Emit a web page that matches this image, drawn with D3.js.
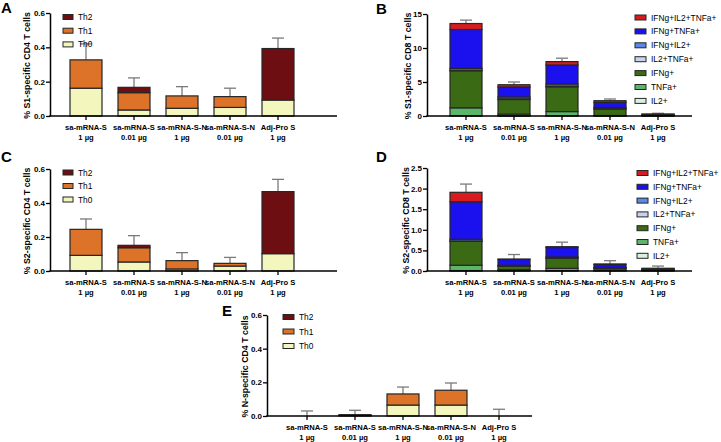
<!DOCTYPE html>
<html><head><meta charset="utf-8">
<script src="https://cdn.jsdelivr.net/npm/d3@7"></script>
<style>
body{margin:0;background:#fff;}
svg{display:block;font-family:"Liberation Sans",Arial,sans-serif;}
</style></head>
<body>
<svg id="chart" width="721" height="442"></svg>
<script>
// ---------- data ----------
const catLine1 = ["sa-mRNA-S", "sa-mRNA-S", "sa-mRNA-S-N", "sa-mRNA-S-N", "Adj-Pro S"];
const catLine2 = ["1 µg", "0.01 µg", "1 µg", "0.01 µg", "1 µg"];
const categories = ["g1", "g2", "g3", "g4", "g5"];

const cd4Keys = ["Th0", "Th1", "Th2"];
const cd4Colors = ["#f3f7bd", "#dc7328", "#6d0e12"];

const cd8Keys = ["IL2+", "TNFa+", "IFNg+", "IL2+TNFa+", "IFNg+IL2+", "IFNg+TNFa+", "IFNg+IL2+TNFa+"];
const cd8Colors = ["#d6f2df", "#5cb66a", "#3b6a14", "#c9d3ef", "#5b8ae6", "#1b10ee", "#d81b1f"];

// Panel A: S1-specific CD4
const aTh0 = [0.162, 0.035, 0.045, 0.050, 0.093];
const aTh1 = [0.165, 0.101, 0.072, 0.063, 0.000];
const aTh2 = [0.000, 0.031, 0.000, 0.000, 0.300];
const aErr = [0.420, 0.222, 0.171, 0.162, 0.454];

// Panel C: S2-specific CD4
const cTh0 = [0.092, 0.053, 0.012, 0.029, 0.102];
const cTh1 = [0.153, 0.084, 0.049, 0.016, 0.000];
const cTh2 = [0.000, 0.014, 0.000, 0.000, 0.365];
const cErr = [0.306, 0.208, 0.108, 0.080, 0.539];

// Panel E: N-specific CD4
const eTh0 = [0.000, 0.004, 0.065, 0.065, 0.000];
const eTh1 = [0.000, 0.004, 0.066, 0.088, 0.000];
const eTh2 = [0.000, 0.000, 0.000, 0.000, 0.000];
const eErr = [0.030, 0.034, 0.172, 0.196, 0.040];

// Panel B: S1-specific CD8
const bIL2      = [0.05, 0.03, 0.05, 0.02, 0.02];
const bTNFa     = [1.15, 0.25, 0.60, 0.05, 0.05];
const bIFNg     = [5.45, 2.15, 3.65, 0.95, 0.10];
const bIL2TNFa  = [0.10, 0.10, 0.10, 0.05, 0.02];
const bIFNgIL2  = [0.25, 0.27, 0.30, 0.18, 0.02];
const bIFNgTNFa = [5.72, 1.47, 2.80, 0.75, 0.05];
const bTriple   = [0.88, 0.33, 0.50, 0.25, 0.02];
const bErr      = [14.1, 5.0, 8.5, 2.5, 0.4];

// Panel D: S2-specific CD8
const dIL2      = [0.010, 0.010, 0.010, 0.010, 0.005];
const dTNFa     = [0.130, 0.020, 0.055, 0.010, 0.010];
const dIFNg     = [0.580, 0.090, 0.245, 0.050, 0.020];
const dIL2TNFa  = [0.010, 0.005, 0.010, 0.005, 0.005];
const dIFNgIL2  = [0.040, 0.015, 0.020, 0.010, 0.005];
const dIFNgTNFa = [0.910, 0.140, 0.230, 0.075, 0.015];
const dTriple   = [0.230, 0.010, 0.020, 0.010, 0.005];
const dErr      = [2.11, 0.40, 0.70, 0.25, 0.12];

const aTicks = [0, 0.2, 0.4, 0.6];
const bTicks = [0, 5, 10, 15];
const dTicks = [0, 0.5, 1.0, 1.5, 2.0, 2.5];

// ---------- drawing ----------
const svg = d3.select("#chart");

function panel(o) {
  const g = svg.append("g");
  const y = d3.scaleLinear().domain(o.domain).range([o.bottom, o.top]);
  const x = d3.scaleBand().domain(categories)
    .range([o.c0 - 24, o.c0 - 24 + 48 * categories.length])
    .paddingInner(1/3).paddingOuter(1/6);

  const rows = categories.map((c, i) => {
    const r = {cat: c};
    o.keys.forEach((k, j) => r[k] = o.series[j][i]);
    return r;
  });
  const stacked = d3.stack().keys(o.keys)(rows);

  // error bars (drawn first, behind bars)
  const totals = rows.map(r => d3.sum(o.keys, k => r[k]));
  const eg = g.append("g").attr("stroke", "#7a7a7a").attr("stroke-width", 1.3).attr("fill", "none");
  categories.forEach((c, i) => {
    const cx = x(c) + x.bandwidth() / 2;
    eg.append("line").attr("x1", cx).attr("x2", cx).attr("y1", y(totals[i])).attr("y2", y(o.err[i]));
    eg.append("line").attr("x1", cx - 6).attr("x2", cx + 6).attr("y1", y(o.err[i])).attr("y2", y(o.err[i]));
  });

  // bars
  stacked.forEach((layer, j) => {
    g.append("g").selectAll("rect").data(layer).join("rect")
      .attr("x", d => x(d.data.cat))
      .attr("width", x.bandwidth())
      .attr("y", d => y(d[1]))
      .attr("height", d => Math.max(0, y(d[0]) - y(d[1])))
      .attr("fill", o.colors[j])
      .attr("stroke", "#262626").attr("stroke-width", 1.2);
  });

  // y axis
  const ya = d3.axisLeft(y).tickValues(o.ticks).tickSize(4).tickSizeOuter(0).tickFormat(d3.format(o.fmt));
  const yg = g.append("g").attr("transform", `translate(${o.axisX},0)`).call(ya);
  yg.select(".domain").attr("stroke-width", 1.5);
  yg.selectAll(".tick line").attr("stroke-width", 1.3);
  yg.selectAll(".tick text").attr("font-size", 8).attr("font-weight", "bold").attr("font-family", "Liberation Sans, Arial").attr("x", -5);

  // x axis
  const xa = d3.axisBottom(x).tickSize(4).tickSizeOuter(0).tickFormat("");
  const xg = g.append("g").attr("transform", `translate(0,${o.bottom})`).call(xa);
  xg.select(".domain").remove();
  xg.selectAll(".tick line").attr("stroke-width", 1.3);
  g.append("line").attr("x1", o.axisX - 0.75).attr("x2", o.xEnd).attr("y1", o.bottom).attr("y2", o.bottom)
    .attr("stroke", "#000").attr("stroke-width", 1.5);
  categories.forEach((c, i) => {
    const cx = x(c) + x.bandwidth() / 2;
    const t = g.append("text").attr("x", cx).attr("y", o.bottom + 14)
      .attr("text-anchor", "middle").attr("font-size", 7.6).attr("font-weight", "bold");
    t.append("tspan").attr("x", cx).text(catLine1[i]);
    t.append("tspan").attr("x", cx).attr("dy", 9.5).text(catLine2[i]);
  });

  // y label
  g.append("text")
    .attr("transform", `translate(${o.labelX},${(o.top + o.bottom) / 2 + 1}) rotate(-90)`)
    .attr("text-anchor", "middle").attr("font-size", 8.8).attr("font-weight", "bold")
    .text(o.ylabel);

  // panel letter
  g.append("text").attr("x", o.letterX).attr("y", o.letterY)
    .attr("font-size", 15).attr("font-weight", "bold").text(o.letter);

  // legend (top of stack first)
  const lg = g.append("g");
  const n = o.keys.length;
  for (let j = n - 1; j >= 0; j--) {
    const ry = o.legY + (n - 1 - j) * o.legStep;
    lg.append("rect").attr("x", o.legX).attr("y", ry - 2.5).attr("width", o.legW).attr("height", 5)
      .attr("fill", o.colors[j]).attr("stroke", "#262626").attr("stroke-width", 1);
    lg.append("text").attr("x", o.legX + o.legW + 5).attr("y", ry + 3)
      .attr("font-size", 8.4).text(o.keys[j]);
  }
}

panel({letter: "A", letterX: 1, letterY: 13, axisX: 50, xEnd: 337, top: 13, bottom: 116, c0: 86,
  domain: [0, 0.6], ticks: aTicks, fmt: ".1f", labelX: 30,
  ylabel: "% S1-specific CD4 T cells", keys: cd4Keys, colors: cd4Colors,
  series: [aTh0, aTh1, aTh2], err: aErr, legX: 63, legY: 17, legStep: 13.7, legW: 10});

panel({letter: "B", letterX: 376, letterY: 14, axisX: 427, xEnd: 692, top: 14, bottom: 116, c0: 466,
  domain: [0, 15], ticks: bTicks, fmt: "d", labelX: 411,
  ylabel: "% S1-specific CD8 T cells", keys: cd8Keys, colors: cd8Colors,
  series: [bIL2, bTNFa, bIFNg, bIL2TNFa, bIFNgIL2, bIFNgTNFa, bTriple], err: bErr,
  legX: 635, legY: 17.5, legStep: 13.9, legW: 11});

panel({letter: "C", letterX: 1, letterY: 162, axisX: 50, xEnd: 337, top: 169, bottom: 271, c0: 86,
  domain: [0, 0.6], ticks: aTicks, fmt: ".1f", labelX: 30,
  ylabel: "% S2-specific CD4 T cells", keys: cd4Keys, colors: cd4Colors,
  series: [cTh0, cTh1, cTh2], err: cErr, legX: 63, legY: 172.5, legStep: 13.5, legW: 10});

panel({letter: "D", letterX: 376, letterY: 162, axisX: 427, xEnd: 692, top: 168, bottom: 271, c0: 466,
  domain: [0, 2.5], ticks: dTicks, fmt: ".1f", labelX: 409,
  ylabel: "% S2-specific CD8 T cells", keys: cd8Keys, colors: cd8Colors,
  series: [dIL2, dTNFa, dIFNg, dIL2TNFa, dIFNgIL2, dIFNgTNFa, dTriple], err: dErr,
  legX: 637, legY: 173, legStep: 13.8, legW: 11});

panel({letter: "E", letterX: 222, letterY: 316, axisX: 267, xEnd: 532, top: 315, bottom: 416, c0: 307,
  domain: [0, 0.6], ticks: aTicks, fmt: ".1f", labelX: 248,
  ylabel: "% N-specific CD4 T cells", keys: cd4Keys, colors: cd4Colors,
  series: [eTh0, eTh1, eTh2], err: eErr, legX: 283, legY: 317, legStep: 14.5, legW: 11});
</script>
</body></html>
